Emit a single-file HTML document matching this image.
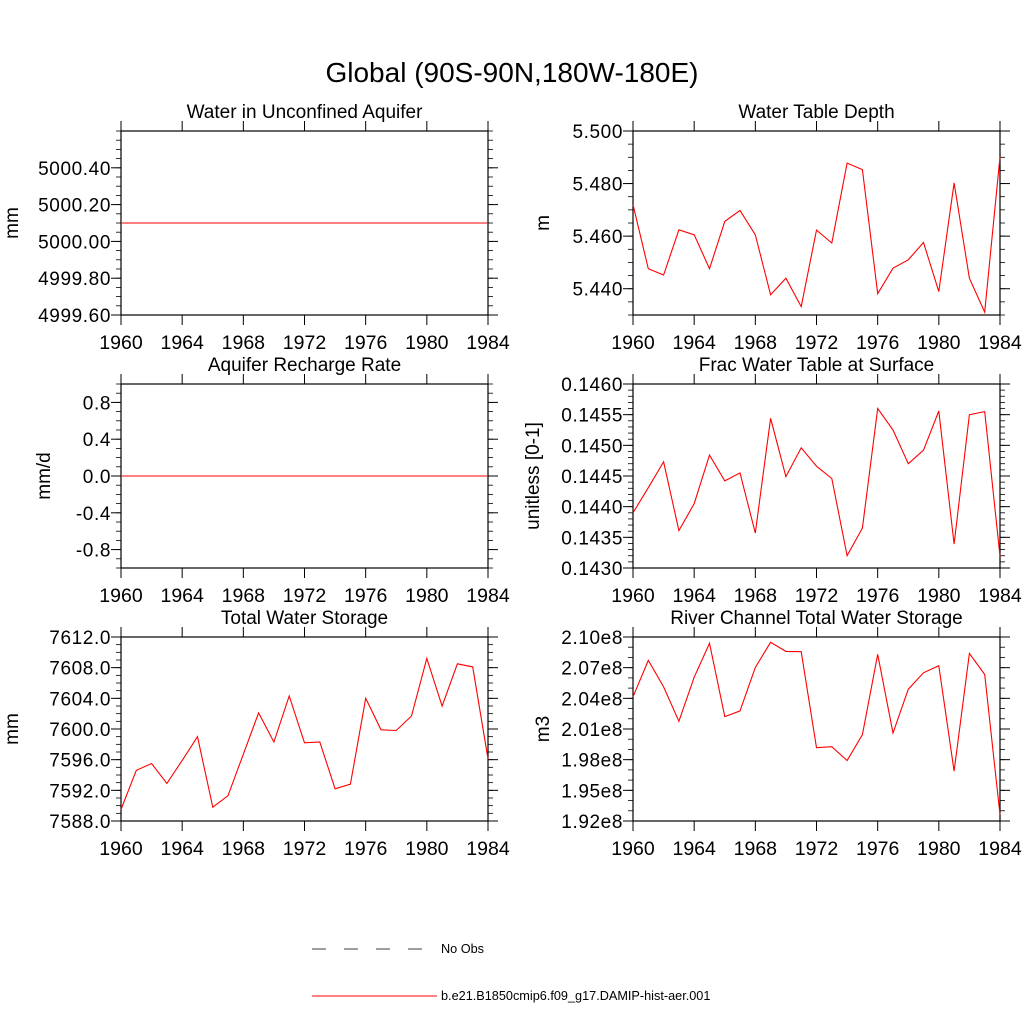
<!DOCTYPE html>
<html><head><meta charset="utf-8"><style>body{margin:0;background:#fff}svg{display:block;font-family:"Liberation Sans",sans-serif}</style></head>
<body>
<svg id="c" width="1024" height="1024">
<text x="512" y="82" text-anchor="middle" font-size="28">Global (90S-90N,180W-180E)</text>
<g>
<line x1="312" y1="949" x2="434" y2="949" stroke="#000" stroke-width="0.8" stroke-dasharray="14,18"/>
<text x="441" y="953" font-size="12.7">No Obs</text>
<line x1="312" y1="996" x2="437" y2="996" stroke="#f00" stroke-width="1"/>
<text x="441" y="1000" font-size="12.7">b.e21.B1850cmip6.f09_g17.DAMIP-hist-aer.001</text>
</g>
</svg>
<script>
const years=[1960,1961,1962,1963,1964,1965,1966,1967,1968,1969,1970,1971,1972,1973,1974,1975,1976,1977,1978,1979,1980,1981,1982,1983,1984];
const xTicks=[1960,1964,1968,1972,1976,1980,1984];
const aquiferVals=years.map(()=>5000.10);
const rechargeVals=years.map(()=>0.0);
const wtdVals=[5.472,5.4476,5.4452,5.4624,5.4605,5.4476,5.4656,5.4698,5.4605,5.4377,5.444,5.4332,5.4623,5.4574,5.4878,5.4853,5.4381,5.4478,5.451,5.4576,5.4389,5.4802,5.444,5.4311,5.4902];
const fracVals=[0.1439,0.14431,0.14473,0.14361,0.14405,0.14484,0.14442,0.14455,0.14357,0.14544,0.14449,0.14496,0.14466,0.14446,0.1432,0.14365,0.1456,0.14525,0.1447,0.14492,0.14556,0.14339,0.1455,0.14555,0.14319];
const twsVals=[7589.5,7594.6,7595.5,7592.9,7595.9,7599.0,7589.8,7591.3,7596.7,7602.1,7598.3,7604.3,7598.2,7598.3,7592.2,7592.8,7604.0,7599.9,7599.8,7601.7,7609.2,7603.0,7608.5,7608.1,7596.1];
const riverVals=[2.0414,2.0771,2.0512,2.0175,2.0607,2.0938,2.0221,2.0277,2.0702,2.0948,2.0859,2.0856,1.9917,1.9927,1.9792,2.0044,2.083,2.0061,2.0489,2.065,2.0719,1.9688,2.084,2.0633,1.9262];
const aquiferTicks=["4999.60","4999.80","5000.00","5000.20","5000.40"];
const rechargeTicks=["-0.8","-0.4","0.0","0.4","0.8"];
const wtdTicks=["5.440","5.460","5.480","5.500"];
const fracTicks=["0.1430","0.1435","0.1440","0.1445","0.1450","0.1455","0.1460"];
const twsTicks=["7588.0","7592.0","7596.0","7600.0","7604.0","7608.0","7612.0"];
const riverTicks=["1.92e8","1.95e8","1.98e8","2.01e8","2.04e8","2.07e8","2.10e8"];

const NS='http://www.w3.org/2000/svg';
const svg=document.getElementById('c');
function mk(t,a,p){const e=document.createElementNS(NS,t);for(const k in a)e.setAttribute(k,a[k]);(p||svg).appendChild(e);return e;}
function panel(o){
  const g=mk('g',{});
  
  
  const L=o.x,R=o.x+367,T=o.y,B=o.y+184;
  const sc=o.scale||1;
  const xs=v=>L+(v-1960)/24*(R-L);
  const ys=v=>B-(v-o.min)/(o.max-o.min)*(B-T);
  const frame=mk('rect',{x:L,y:T,width:R-L,height:B-T,fill:'none',stroke:'#000','stroke-width':1.2},g);
  
  
  for(let v=o.min;v<=o.max+1e-9;v+=o.minor){const y=ys(v);
    mk('line',{x1:L-5,y1:y,x2:L,y2:y,stroke:'#000','stroke-width':0.8},g);
    mk('line',{x1:R,y1:y,x2:R+5,y2:y,stroke:'#000','stroke-width':0.8},g);}
  o.ticks.forEach(t=>{const v=parseFloat(t)/sc;const y=ys(v);
    mk('line',{x1:L-10,y1:y,x2:L,y2:y,stroke:'#000','stroke-width':1},g);
    mk('line',{x1:R,y1:y,x2:R+10,y2:y,stroke:'#000','stroke-width':1},g);
    const tx=mk('text',{x:L-10,y:y+7,'text-anchor':'end','font-size':19,'letter-spacing':'0.6'},g);tx.textContent=t;
    
    });
  xTicks.forEach(v=>{const x=xs(v);
    mk('line',{x1:x,y1:B,x2:x,y2:B+10,stroke:'#000','stroke-width':1},g);
    mk('line',{x1:x,y1:T-10,x2:x,y2:T,stroke:'#000','stroke-width':1},g);
    const tx=mk('text',{x:x,y:B+34,'text-anchor':'middle','font-size':19.5},g);tx.textContent=v;
    
    });
  const ti=mk('text',{x:(L+R)/2,y:T-13,'text-anchor':'middle','font-size':19},g);ti.textContent=o.title;
  
  
  const yl=mk('text',{x:0,y:0,'text-anchor':'middle','font-size':19,transform:`translate(${o.ylx},${(T+B)/2}) rotate(-90)`},g);yl.textContent=o.ylabel;
  
  
  const d=o.vals.map((v,i)=>(i?'L':'M')+xs(years[i]).toFixed(1)+','+ys(v).toFixed(1)).join('');
  const p=mk('path',{d:d,fill:'none',stroke:'#f00','stroke-width':1.1},g);
  
  
}
panel({name:'panel-aquifer-water',x:121,y:131,min:4999.6,max:5000.6,minor:0.05,ticks:aquiferTicks,vals:aquiferVals,title:'Water in Unconfined Aquifer',ylabel:'mm',ylx:18});
panel({name:'panel-water-table-depth',x:633,y:131,min:5.43,max:5.50,minor:0.005,ticks:wtdTicks,vals:wtdVals,title:'Water Table Depth',ylabel:'m',ylx:549});
panel({name:'panel-recharge-rate',x:121,y:384,min:-1,max:1,minor:0.1,ticks:rechargeTicks,vals:rechargeVals,title:'Aquifer Recharge Rate',ylabel:'mm/d',ylx:50});
panel({name:'panel-frac-water-table',x:633,y:384,min:0.143,max:0.146,minor:0.0001,ticks:fracTicks,vals:fracVals,title:'Frac Water Table at Surface',ylabel:'unitless [0-1]',ylx:539});
panel({name:'panel-total-water-storage',x:121,y:637,min:7588,max:7612,minor:1,ticks:twsTicks,vals:twsVals,title:'Total Water Storage',ylabel:'mm',ylx:18});
panel({name:'panel-river-storage',x:633,y:637,min:1.92,max:2.10,minor:0.01,scale:1e8,ticks:riverTicks,vals:riverVals,title:'River Channel Total Water Storage',ylabel:'m3',ylx:549});
</script>
</body></html>
